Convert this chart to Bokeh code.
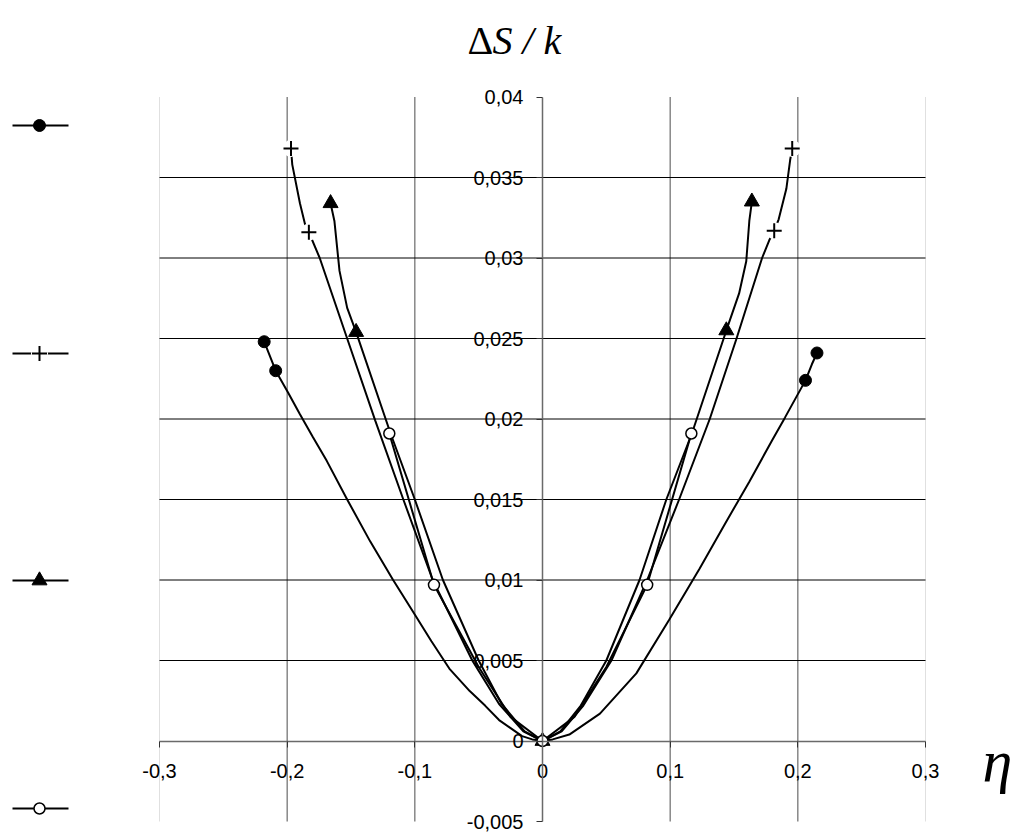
from bokeh.plotting import figure
from bokeh.models import LinearAxis, FixedTicker, Range1d, Label
from bokeh.embed import file_html
from bokeh.resources import INLINE

# ---------------- data ----------------
x_ticks = [-0.3, -0.2, -0.1, 0.0, 0.1, 0.2, 0.3]
x_tick_labels = ["-0,3", "-0,2", "-0,1", "0", "0,1", "0,2", "0,3"]
y_ticks = [-0.005, 0.0, 0.005, 0.01, 0.015, 0.02, 0.025, 0.03, 0.035, 0.04]
y_tick_labels = ["-0,005", "0", "0,005", "0,01", "0,015", "0,02", "0,025", "0,03", "0,035", "0,04"]
h_grid_ticks = [0.005, 0.01, 0.015, 0.02, 0.025, 0.03, 0.035]
v_grid_ticks = [-0.2, -0.1, 0.1, 0.2]
v_edge_ticks = [-0.3, 0.3]
x_min, x_max = -0.3, 0.3
y_min, y_max = -0.005, 0.04

# series 1: filled circles (widest curve)
s1_x = [-0.218, -0.209, -0.199, -0.190, -0.180, -0.169, -0.153, -0.135, -0.117, -0.102,
        -0.087, -0.073, -0.057, -0.045, -0.034, -0.025, -0.016, -0.008, 0.0, 0.008,
        0.021, 0.045, 0.0735, 0.099, 0.123, 0.143, 0.162, 0.180, 0.190, 0.206, 0.211, 0.215]
s1_y = [0.0248, 0.0230, 0.0216, 0.0203, 0.0189, 0.0174, 0.0150, 0.0124, 0.0100, 0.0081,
        0.0062, 0.0045, 0.0031, 0.0022, 0.0013, 0.0008, 0.0003, 0.0001, 0.0, 0.0001,
        0.0004, 0.0017, 0.0042, 0.0075, 0.0107, 0.0135, 0.0161, 0.0187, 0.0201, 0.0224, 0.0234, 0.0241]
s1_mx = [-0.218, -0.209, 0.206, 0.215]
s1_my = [0.0248, 0.0230, 0.0224, 0.0241]

# series 2: plus markers
s2_x = [-0.197, -0.196, -0.190, -0.186, -0.183, -0.1745, -0.153, -0.131, -0.109, -0.086,
        -0.055, -0.034, -0.015, 0.0, 0.015, 0.032, 0.054, 0.082, 0.107, 0.131,
        0.152, 0.172, 0.1776, 0.1815, 0.185, 0.191, 0.194, 0.1956]
s2_y = [0.0368, 0.0358, 0.0334, 0.0321, 0.0316, 0.0300, 0.0250, 0.0199, 0.0150, 0.0100,
        0.0050, 0.0023, 0.0006, 0.0, 0.0006, 0.0022, 0.0050, 0.0100, 0.0150, 0.0200,
        0.0250, 0.0300, 0.0311, 0.0317, 0.0324, 0.0343, 0.0361, 0.0368]
s2_mx = [-0.197, -0.183, 0.1815, 0.1956]
s2_my = [0.0368, 0.0316, 0.0317, 0.0368]

# series 3: filled triangles
s3_x = [-0.166, -0.163, -0.159, -0.153, -0.146, -0.119, -0.100, -0.078, -0.050,
        -0.032, -0.014, 0.0, 0.014, 0.030, 0.050, 0.076, 0.097, 0.117,
        0.144, 0.154, 0.1596, 0.162, 0.164]
s3_y = [0.0334, 0.0323, 0.0292, 0.0269, 0.0254, 0.0191, 0.0150, 0.0100, 0.0050,
        0.0023, 0.0006, 0.0, 0.0006, 0.0022, 0.0050, 0.0100, 0.0150, 0.0191,
        0.0255, 0.0278, 0.0298, 0.0323, 0.0335]
s3_mx = [-0.166, -0.146, 0.0, 0.144, 0.164]
s3_my = [0.0334, 0.0254, 0.0, 0.0255, 0.0335]

# series 4: open circles
s4_x = [-0.120, -0.085, -0.050, -0.025, 0.0, 0.025, 0.050, 0.082, 0.1166]
s4_y = [0.0191, 0.0097, 0.0046, 0.0015, 0.0, 0.0015, 0.0046, 0.0097, 0.0191]
s4_mx = [-0.120, -0.085, 0.0, 0.082, 0.1166]
s4_my = [0.0191, 0.0097, 0.0, 0.0097, 0.0191]

# ---------------- layout (pixel placement of the data box) ----------------
W, H = 1019, 832
PX_X0, PX_PER_X = 542.0, 1276.67      # pixel of x=0, pixels per x unit
PX_Y0, PX_PER_Y = 740.5, 16100.0      # pixel of y=0, pixels per y unit


def dx(px):
    return (px - PX_X0) / PX_PER_X


def dy(py):
    return (PX_Y0 - py) / PX_PER_Y


p = figure(width=W, height=H, min_border=0,
           x_range=Range1d(dx(0), dx(W)), y_range=Range1d(dy(H), dy(0)),
           x_axis_type=None, y_axis_type=None, toolbar_location=None,
           output_backend="svg", outline_line_color=None)

# grid lines, limited to the data box
p.segment(x0=v_edge_ticks, x1=v_edge_ticks, y0=[y_min] * 2, y1=[y_max] * 2,
          line_color="#e0e0e0", line_width=1, level="underlay")
p.segment(x0=v_grid_ticks, x1=v_grid_ticks, y0=[y_min] * 4, y1=[y_max] * 4,
          line_color="#6a6a6a", line_width=1.2, level="underlay")
p.segment(x0=[x_min] * 7, x1=[x_max] * 7, y0=h_grid_ticks, y1=h_grid_ticks,
          line_color="black", line_width=1, level="underlay")

axis_style = dict(axis_line_color="#6a6a6a", axis_line_width=1.5,
                  major_tick_line_color="#333333", major_tick_out=6, major_tick_in=0,
                  minor_tick_out=0, minor_tick_in=0,
                  major_label_text_font="Liberation Sans", major_label_text_font_size="20px",
                  major_label_text_color="black")
xaxis = LinearAxis(fixed_location=0, bounds=(x_min, x_max), ticker=FixedTicker(ticks=x_ticks),
                   major_label_overrides=dict(zip(x_ticks, x_tick_labels)),
                   major_label_standoff=17, **axis_style)
yaxis = LinearAxis(fixed_location=0, bounds=(y_min, y_max), ticker=FixedTicker(ticks=y_ticks),
                   major_label_overrides=dict(zip(y_ticks, y_tick_labels)),
                   major_label_standoff=13, **axis_style)
p.add_layout(xaxis, "below")
p.add_layout(yaxis, "left")

# curves
for xs, ys in [(s1_x, s1_y), (s2_x, s2_y), (s3_x, s3_y), (s4_x, s4_y)]:
    p.line(xs, ys, line_color="black", line_width=2)

# markers
p.scatter(s2_mx, s2_my, marker="circle", size=17, fill_color="white", line_color=None)
p.scatter(s1_mx, s1_my, marker="circle", size=12, fill_color="black", line_color="black")
p.scatter(s2_mx, s2_my, marker="cross", size=15, line_color="black", line_width=2)
p.scatter(s3_mx, s3_my, marker="triangle", size=15, fill_color="black", line_color="black")
p.scatter(s4_mx, s4_my, marker="circle", size=11, fill_color="white", line_color="black",
          line_width=1.5)

# legend keys at the left edge
leg_py = [125, 353, 580, 808]
leg_y = [dy(v) for v in leg_py]
lx0, lx1, lxm = dx(12), dx(68), dx(39)
p.segment(x0=[lx0] * 4, x1=[lx1] * 4, y0=leg_y, y1=leg_y, line_color="black", line_width=2)
p.scatter([lxm], [leg_y[0]], marker="circle", size=12, fill_color="black", line_color="black")
p.scatter([lxm], [leg_y[1]], marker="circle", size=17, fill_color="white", line_color=None)
p.scatter([lxm], [leg_y[1]], marker="cross", size=15, line_color="black", line_width=2)
p.scatter([lxm], [leg_y[2]], marker="triangle", size=15, fill_color="black", line_color="black")
p.scatter([lxm], [leg_y[3]], marker="circle", size=11, fill_color="white", line_color="black",
          line_width=1.5)

# axis titles
p.add_layout(Label(x=dx(467), y=dy(40), text="Δ", text_font="Liberation Serif",
                   text_font_size="40px", text_color="black",
                   text_baseline="alphabetic", text_align="left"))
p.add_layout(Label(x=dx(492), y=dy(40), text="S / k", text_font="Liberation Serif",
                   text_font_style="italic", text_font_size="40px", text_color="black",
                   text_baseline="alphabetic", text_align="left"))
p.add_layout(Label(x=dx(982), y=dy(760), text="η", text_font="Liberation Serif",
                   text_font_style="italic", text_font_size="60px", text_color="black",
                   text_baseline="alphabetic", text_align="left"))

open("out.html", "w").write(file_html(p, INLINE))
